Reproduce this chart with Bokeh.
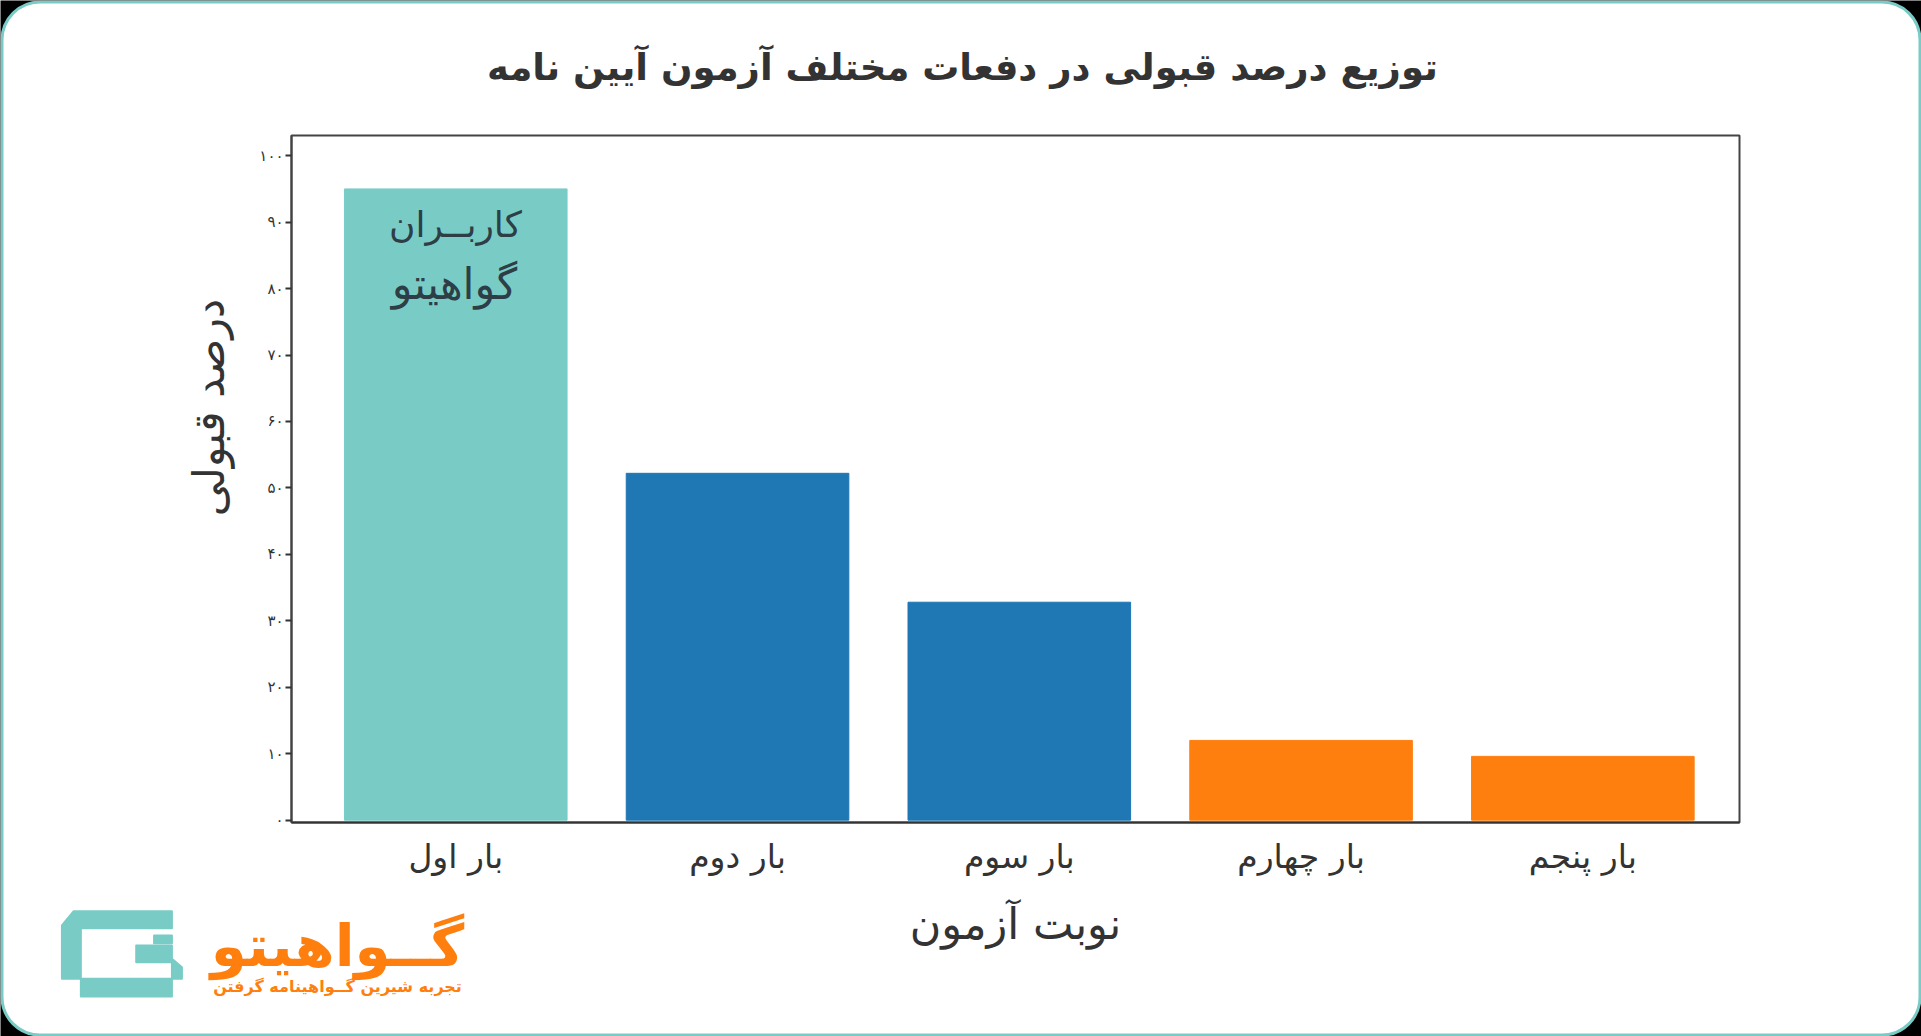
from math import pi
from bokeh.plotting import figure
from bokeh.models import BoxAnnotation, Label, Range1d, ColumnDataSource
from bokeh.embed import file_html
from bokeh.resources import INLINE

FONT = "DejaVu Sans"
title_text = "توزیع درصد قبولی در دفعات مختلف آزمون آیین نامه"
categories = ["بار اول", "بار دوم", "بار سوم", "بار چهارم", "بار پنجم"]
values = [95, 52.2, 32.8, 12, 9.6]
colors = ["#79CCC6", "#1F77B4", "#1F77B4", "#FF7F0E", "#FF7F0E"]
y_ticks = [0, 10, 20, 30, 40, 50, 60, 70, 80, 90, 100]
y_tick_labels = ["۰", "۱۰", "۲۰", "۳۰", "۴۰", "۵۰", "۶۰", "۷۰", "۸۰", "۹۰", "۱۰۰"]
x_label = "نوبت آزمون"
y_label = "درصد قبولی"
note_lines = ["کاربــران", "گواهیتو"]
brand = "گــواهیتو"
tagline = "تجربه شیرین گــواهینامه گرفتن"
TEAL, ORANGE, INK = "#79CCC6", "#FF7F0E", "#333333"
W, H = 1921, 1036

# Card behind the chart: its frame fills the whole page, so its ranges are page pixels.
bg = figure(width=W, height=H, output_backend="svg", toolbar_location=None,
            x_range=Range1d(0, W), y_range=Range1d(H, 0),
            x_axis_location=None, y_axis_location=None,
            min_border=0, background_fill_color="black", border_fill_color="black",
            outline_line_color=None, margin=(0, 0, -H, 0))
bg.grid.visible = False
bg.add_layout(BoxAnnotation(left=1.5, right=W - 1.5, top=1.5, bottom=H - 1.5, level="underlay",
                            fill_color="white", fill_alpha=1, line_color=TEAL, line_width=3, line_alpha=1,
                            border_radius=38))


def card_label(text, x, y, size, color=INK, style="normal", angle=0):
    bg.add_layout(Label(x=x, y=y, text=text, text_font=FONT, text_font_size=size, text_font_style=style,
                        text_color=color, text_align="center", text_baseline="middle", angle=angle))


card_label(title_text, 962, 67, "37px", style="bold")
card_label(y_label, 208, 407, "43px", angle=pi / 2)
card_label(brand, 337, 945, "58px", color=ORANGE, style="bold")
card_label(tagline, 337, 986, "16px", color=ORANGE, style="bold")


def logo(pts):
    """Logo outline, traced in crop coordinates, to page pixels."""
    return [q[0] / 2.8 for q in pts], [860 + q[1] / 3 for q in pts]


icon = [(205, 152), (480, 152), (480, 203), (225, 203), (225, 355), (480, 355), (480, 305), (380, 305),
        (380, 255), (480, 255), (480, 295), (508, 320), (508, 355), (480, 355), (480, 408), (225, 408),
        (225, 355), (172, 355), (172, 195)]
block = [(430, 225), (480, 225), (480, 248), (430, 248)]
for pts in (icon, block):
    xs, ys = logo(pts)
    bg.patch(xs, ys, fill_color=TEAL, line_color=TEAL, line_width=2, line_join="round")

positions = list(range(len(categories)))
p = figure(width=W, height=H, output_backend="svg", toolbar_location=None,
           x_range=Range1d(-0.583, 4.556),
           y_range=Range1d(-0.35, 103.04),
           min_border_left=291, min_border_right=182, min_border_top=135, min_border_bottom=214,
           background_fill_color="white", border_fill_color=None,
           outline_line_color="#444444", outline_line_width=2)

src = ColumnDataSource(dict(x=positions, top=values, color=colors))
p.vbar(x="x", top="top", width=0.79, bottom=0, color="color", source=src)
p.grid.visible = False

ax = p.xaxis[0]
ax.ticker = positions
ax.major_label_overrides = dict(zip(positions, categories))
ax.axis_label = x_label
ax.axis_label_text_font = FONT
ax.axis_label_text_font_size = "43px"
ax.axis_label_text_font_style = "normal"
ax.axis_label_text_color = INK
ax.axis_label_standoff = 20
ax.major_label_text_font = FONT
ax.major_label_text_font_size = "33px"
ax.major_label_text_color = INK
ax.major_label_standoff = 8
ax.major_tick_line_color = None
ax.minor_tick_line_color = None
ax.axis_line_color = "#333333"
ax.axis_line_width = 2

ay = p.yaxis[0]
ay.ticker = y_ticks
ay.major_label_overrides = dict(zip(y_ticks, y_tick_labels))
ay.major_label_text_font = FONT
ay.major_label_text_font_size = "15px"
ay.major_label_text_color = INK
ay.major_label_standoff = 2
ay.major_tick_in = 0
ay.major_tick_out = 6
ay.major_tick_line_color = "#333333"
ay.major_tick_line_width = 2
ay.minor_tick_line_color = None
ay.axis_line_color = "#444444"
ay.axis_line_width = 2

for text, cx, cy, size in ((note_lines[0], 455, 224, "36px"), (note_lines[1], 454, 283, "43px")):
    p.add_layout(Label(x=cx, y=cy, x_units="canvas", y_units="canvas", text=text, text_font=FONT,
                       text_font_size=size, text_color="#2D3E46", text_align="center", text_baseline="middle"))

open("out.html", "w").write(file_html([bg, p], INLINE))
